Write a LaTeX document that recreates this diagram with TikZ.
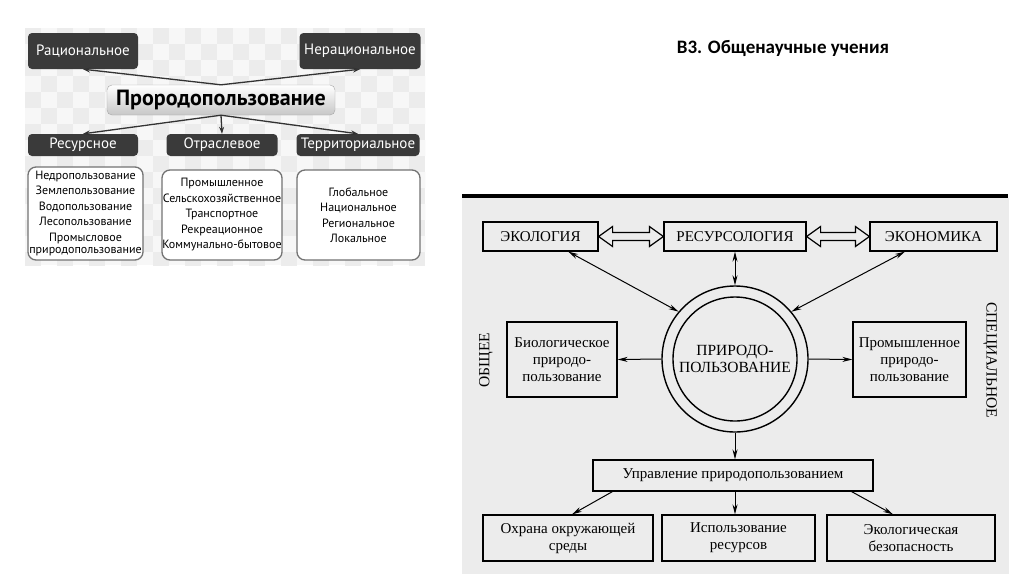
\documentclass[tikz,border=0pt]{standalone}
\usepackage{fontspec}
\setmainfont{Liberation Serif}
\newfontfamily\slidefont{Carlito}
\newfontfamily\schemefont{PT Sans}
\usetikzlibrary{arrows.meta,calc,positioning}
\definecolor{tiledark}{RGB}{58,58,58}
\definecolor{tilegray}{RGB}{236,236,236}
\definecolor{scangray}{RGB}{236,236,236}

\begin{document}
\begin{tikzpicture}[
    x=1pt, y=-1pt,
    darkbox/.style={fill=tiledark, rounded corners=4pt, text=white, inner sep=0pt, font=\schemefont\fontsize{15}{17}\selectfont},
    listbox/.style={draw=black!55, line width=1.3pt, fill=white, rounded corners=8pt, align=center, inner sep=0pt, font=\schemefont\fontsize{12}{15.5}\selectfont},
    mainbox/.style={draw=black!35, rounded corners=5pt, top color=white, bottom color=black!22, inner sep=0pt, font=\schemefont\bfseries\fontsize{22}{24}\selectfont},
    larr/.style={-{Stealth[length=7pt,width=5pt]}, line width=1.3pt, draw=black!80},
    scanbox/.style={draw, line width=1.2pt, fill=scangray, align=center, inner sep=0pt, font=\fontsize{15}{17}\selectfont},
    arr/.style={-{Stealth[length=10pt,width=5pt]}, line width=1pt},
    dblarr/.style={{Stealth[length=10pt,width=5pt]}-{Stealth[length=10pt,width=5pt]}, line width=1pt},
    hollow/.style={line width=1.2pt, fill=scangray, line join=miter}
]
\useasboundingbox (0,0) rectangle (1024,574);
\fill[white] (0,0) rectangle (1024,574);

% Slide title
\node[font=\slidefont\bfseries\fontsize{19}{22}\selectfont] (title) at (783,48) {В3. Общенаучные учения};

% Left scheme: checkered backdrop
\begin{scope}
\clip (25,28) rectangle (425,265);
\fill[black!3] (25,28) rectangle (425,265);
\foreach \i in {0,...,12}
  \foreach \j in {0,...,7} {
    \fill[tilegray] (25+32*\i,28+32*\j) rectangle ++(16,16);
    \fill[tilegray] (41+32*\i,44+32*\j) rectangle ++(16,16);
  }
\end{scope}

% Upper row
\node[darkbox, minimum width=110, minimum height=36] (rat) at (83,51) {Рациональное};
\node[darkbox, minimum width=121, minimum height=36] (nerat) at (360,51) {Нерациональное};

% Central node
\node[mainbox, minimum width=228, minimum height=30] (main) at (221,100) {Прородопользование};

% Lower row
\node[darkbox, minimum width=110, minimum height=22] (res) at (83,145) {Ресурсное};
\node[darkbox, minimum width=111, minimum height=22] (otr) at (222,145) {Отраслевое};
\node[darkbox, minimum width=123, minimum height=22] (ter) at (358,145) {Территориальное};

% Lists
\node[listbox, minimum width=115, minimum height=93] (reslist) at (85.5,213.5) {Недропользование\\Землепользование\\Водопользование\\Лесопользование\\Промысловое\\[-3pt]природопользование};
\node[listbox, minimum width=120, minimum height=90] (otrlist) at (222,215) {Промышленное\\Сельскохозяйственное\\Транспортное\\Рекреационное\\Коммунально-бытовое};
\node[listbox, minimum width=123, minimum height=90] (terlist) at (358.5,215) {Глобальное\\Национальное\\Региональное\\Локальное};

% Left arrows
\draw[larr] (main.north) -- (rat.south);
\draw[larr] (main.north) -- (nerat.south);
\draw[larr] (main.south) -- (res.north);
\draw[larr] (main.south) -- (otr.north);
\draw[larr] (main.south) -- (ter.north);

% Right scheme: scanned page
\fill[scangray] (462,198) rectangle (1009,574);
\draw[line width=3.5pt] (462,196) -- (1008,196);

% Sciences
\node[scanbox, minimum width=115, minimum height=29] (eco) at (540.5,236.5) {ЭКОЛОГИЯ};
\node[scanbox, minimum width=142, minimum height=29] (resl) at (735,236.5) {РЕСУРСОЛОГИЯ};
\node[scanbox, minimum width=127, minimum height=29] (econ) at (933.5,236.5) {ЭКОНОМИКА};

% Hollow double arrows
\draw[hollow] (eco.east) -- ++(14,10) -- ++(0,-6) -- ($(resl.west)+(-14,4)$) -- ++(0,6) -- (resl.west)
  -- ++(-14,-10) -- ++(0,6) -- ($(eco.east)+(14,-4)$) -- ++(0,-6) -- cycle;
\draw[hollow] (resl.east) -- ++(14,10) -- ++(0,-6) -- ($(econ.west)+(-14,4)$) -- ++(0,6) -- (econ.west)
  -- ++(-14,-10) -- ++(0,6) -- ($(resl.east)+(14,-4)$) -- ++(0,-6) -- cycle;

% Central ring
\node[circle, draw, line width=1.4pt, minimum size=146] (pp) at (735,359) {};
\node[circle, draw, line width=1.4pt, minimum size=124, inner sep=0pt, align=center, font=\fontsize{15.5}{17}\selectfont] (ppin) at (735,359) {ПРИРОДО-\\ПОЛЬЗОВАНИЕ};

% Side boxes
\node[scanbox, minimum width=110, minimum height=75] (bio) at (562,359.5) {Биологическое\\природо-\\пользование};
\node[scanbox, minimum width=113, minimum height=75] (prom) at (909.5,359.5) {Промышленное\\природо-\\пользование};
\node[rotate=90, font=\fontsize{15.5}{17}\selectfont] (obsh) at (486,360) {ОБЩЕЕ};
\node[rotate=-90, font=\fontsize{15.5}{17}\selectfont] (spec) at (990,360) {СПЕЦИАЛЬНОЕ};

% Management
\node[scanbox, minimum width=280, minimum height=31] (upr) at (733,475.5) {Управление природопользованием};
\node[scanbox, minimum width=170, minimum height=46] (ohr) at (568,538) {Охрана окружающей\\среды};
\node[scanbox, minimum width=153, minimum height=46] (isp) at (738.5,538) {Использование\\ресурсов};
\node[scanbox, minimum width=168, minimum height=46] (ekb) at (911,538) {Экологическая\\безопасность};

% Arrows
\draw[dblarr] (pp.140) -- (eco);
\draw[dblarr] (pp.40) -- (econ);
\draw[dblarr] (resl.south) -- (pp.north);
\draw[arr] (pp.west) -- (bio.east);
\draw[arr] (pp.east) -- (prom.west);
\draw[arr] (pp.south) -- (pp.south |- upr.north);
\draw[arr] ($(upr.south west)+(20,0)$) -- ($(ohr.north)+(4,0)$);
\draw[arr] (upr.south -| pp) -- (isp.north -| pp);
\draw[arr] ($(upr.south east)+(-22,0)$) -- ($(ekb.north)+(-18,0)$);

\end{tikzpicture}
\end{document}
